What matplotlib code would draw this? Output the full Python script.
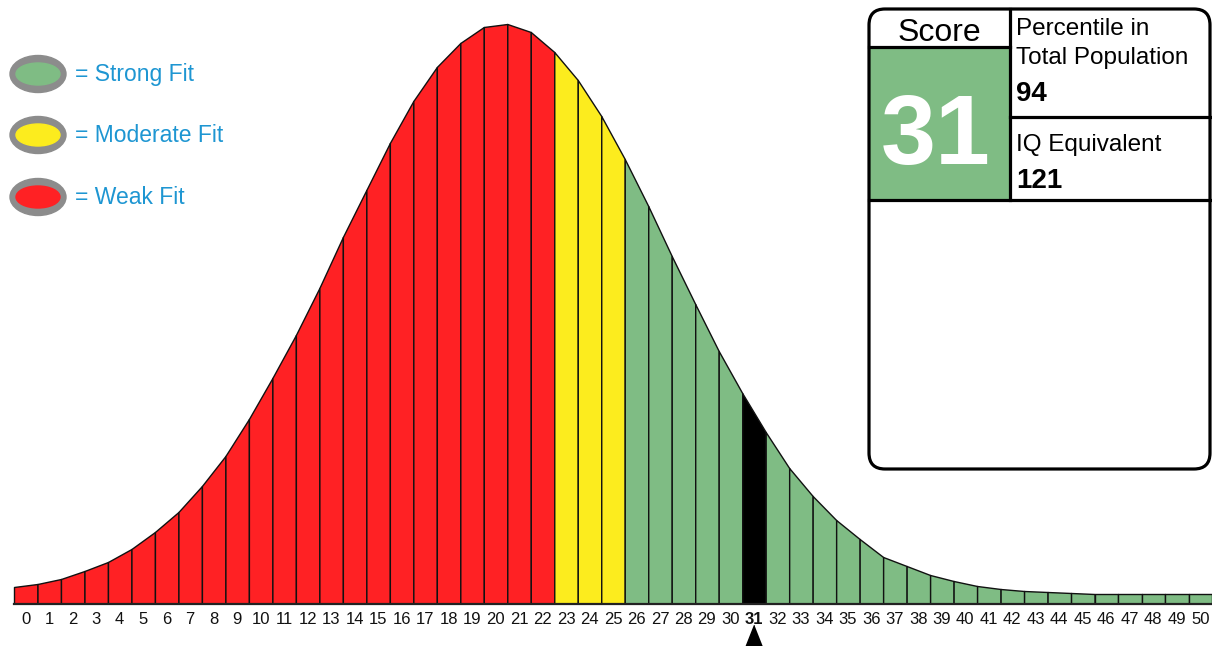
import numpy as np
import matplotlib
matplotlib.use("Agg")
import matplotlib.pyplot as plt
from matplotlib.patches import FancyBboxPatch, Ellipse, Rectangle

plt.rcParams['font.family'] = ['Liberation Sans', 'DejaVu Sans']

# Heights of the curve at each bar edge (52 edges -> 51 bars, scores 0..50)
edge_heights = [17, 20, 25, 33, 42, 55, 72, 92, 118, 148, 185, 226, 269, 316,
                367, 414, 461, 503, 537, 561, 577, 580, 572, 552, 524, 488,
                445, 398, 348, 300, 253, 211, 172, 136, 108, 84, 65, 47, 38,
                29, 23, 18, 15, 13, 12, 11, 10, 10, 10, 10, 10, 10]
scores = list(range(51))
score_labels = [str(s) for s in scores]
weak_scores = list(range(0, 23))
moderate_scores = list(range(23, 26))
strong_scores = list(range(26, 51))
my_score = 31
percentile = 94
iq_equiv = 121

legend_labels = ["= Strong Fit", "= Moderate Fit", "= Weak Fit"]

RED = "#ff2124"
YELLOW = "#fcec1e"
GREEN = "#7fbc84"
BLUE = "#1e96d2"

fig = plt.figure(figsize=(12.12, 6.46), dpi=100)

# main chart axes: bottom sits on the baseline
ax = fig.add_axes([0, 42 / 646, 1, 604 / 646])
ax.set_xlim(-14 / 23.49, 51.0)
ax.set_ylim(0, 604)

for s in scores:
    if s == my_score:
        c = "black"
    elif s in weak_scores:
        c = RED
    elif s in moderate_scores:
        c = YELLOW
    else:
        c = GREEN
    ax.fill_between([s, s + 1], 0, [edge_heights[s], edge_heights[s + 1]],
                    facecolor=c, edgecolor="#111111", linewidth=1.0)
ax.plot([0, 51], [0, 0], color="#222222", lw=1.6, clip_on=False)

ax.set_xticks([s + 0.5 for s in scores])
ax.set_xticklabels(score_labels)
ax.tick_params(axis="x", length=0, pad=5.5, labelsize=12, labelcolor="#111111")
ax.set_yticks([])
for lab in ax.get_xticklabels():
    if lab.get_text() == str(my_score):
        lab.set_fontweight("bold")
for sp in ax.spines.values():
    sp.set_visible(False)
ax.patch.set_alpha(0)

# arrow under the score
ax.plot(my_score + 0.5, -33, marker=[(0, 1), (-0.79, -1), (0.79, -1)],
        markersize=17.5, color="black", clip_on=False)

# overlay axes in pixel coords for the legend and score box
ov = fig.add_axes([0, 0, 1, 1], zorder=5)
ov.set_xlim(0, 1212)
ov.set_ylim(646, 0)
ov.axis("off")
ov.patch.set_alpha(0)

for lab, c, yc in zip(legend_labels, [GREEN, YELLOW, RED], [74, 135, 197]):
    ov.add_patch(Ellipse((38, yc), 56, 37, color="#8c8c8c"))
    ov.add_patch(Ellipse((38, yc), 44, 22, color=c))
    ov.text(75, yc + 1, lab, color=BLUE, fontsize=16.5, va="center", ha="left")

# score box
ov.add_patch(Rectangle((869, 47), 141, 153, color=GREEN, zorder=1))
ov.add_patch(FancyBboxPatch((869, 9), 341, 460,
                            boxstyle="round,pad=0,rounding_size=16",
                            fill=False, edgecolor="black", lw=2.3, zorder=3))
ov.plot([1010, 1010], [9, 200], color="black", lw=2.3, zorder=3)
ov.plot([869, 1010], [47, 47], color="black", lw=2.3, zorder=3)
ov.plot([869, 1210], [200, 200], color="black", lw=2.3, zorder=3)
ov.plot([1010, 1210], [117, 117], color="black", lw=2.3, zorder=3)

ov.text(939, 41, "Score", fontsize=23, ha="center", va="baseline")
ov.text(936, 164, str(my_score), fontsize=71, fontweight="bold", color="white",
        ha="center", va="baseline", zorder=4)
ov.text(1016, 35, "Percentile in", fontsize=17.5, va="baseline")
ov.text(1016, 64, "Total Population", fontsize=17.5, va="baseline")
ov.text(1016, 101, str(percentile), fontsize=20, fontweight="bold", va="baseline")
ov.text(1016, 151, "IQ Equivalent", fontsize=17.5, va="baseline")
ov.text(1016, 188, str(iq_equiv), fontsize=20, fontweight="bold", va="baseline")

fig.savefig("out.png", dpi=100)
